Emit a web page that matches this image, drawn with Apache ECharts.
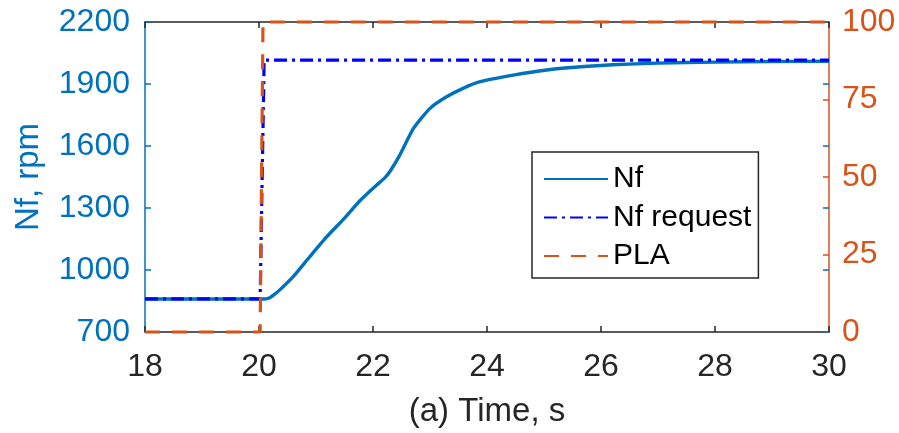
<!DOCTYPE html>
<html>
<head>
<meta charset="utf-8">
<script src="https://cdn.jsdelivr.net/npm/echarts@6/dist/echarts.min.js"></script>
<style>
html,body{margin:0;padding:0;background:#fff;}
#chart{width:899px;height:433px;}
</style>
</head>
<body>
<div id="chart"></div>
<script>
// Data
const nfTime = [18, 20.1, 20.19, 20.28, 20.37, 20.6, 20.89, 21.19, 21.48, 21.77, 22.06, 22.21, 22.3, 22.47, 22.71, 23.0, 23.29, 23.58, 23.88, 24.46, 25.05, 25.6, 26.2, 27, 28, 29, 30];
const nfValue = [860, 860, 866, 884, 905, 968, 1064, 1161, 1245, 1335, 1410, 1447, 1478, 1556, 1685, 1782, 1838, 1879, 1911, 1943, 1968, 1982, 1993, 2001, 2006, 2009, 2010];
const reqTime = [18, 20.02, 20.09, 30];
const reqValue = [860, 860, 2016, 2016];
const plaTime = [18, 20.02, 20.07, 30];
const plaValue = [0, 0, 100, 100];
const xTicks = {min: 18, max: 30, interval: 2};
const leftTicks = {min: 700, max: 2200, interval: 300};
const rightTicks = {min: 0, max: 100, interval: 25};
const legendNames = ['Nf', 'Nf request', 'PLA'];

const BLUE = '#0072BD';
const ORANGE = '#D95319';
const DARK = '#262626';
const FONT = 'Liberation Sans, Arial, sans-serif';

const zip = (a, b) => a.map((v, i) => [v, b[i]]);
const plain = v => String(v);

const chart = echarts.init(document.getElementById('chart'));
chart.setOption({
  animation: false,
  backgroundColor: '#fff',
  textStyle: {fontFamily: FONT},
  grid: {left: 145, right: 70, top: 22, bottom: 101, containLabel: false},
  legend: {
    orient: 'vertical',
    left: 532, top: 152,
    padding: [12, 7, 7, 11],
    itemWidth: 64, itemHeight: 14,
    itemGap: 8.5,
    borderColor: DARK, borderWidth: 1.5,
    backgroundColor: '#fff',
    itemStyle: {opacity: 0},
    textStyle: {fontSize: 30, color: '#000', fontFamily: FONT, lineHeight: 30},
    data: legendNames
  },
  xAxis: [
    {
      type: 'value', position: 'bottom', min: xTicks.min, max: xTicks.max, interval: xTicks.interval,
      axisLine: {show: true, lineStyle: {color: DARK, width: 1.5}},
      axisTick: {show: true, inside: true, length: 6, lineStyle: {color: DARK, width: 1.5}},
      axisLabel: {fontSize: 32, color: DARK, margin: 19, fontFamily: FONT, formatter: plain},
      splitLine: {show: false},
      name: '(a) Time, s', nameLocation: 'middle', nameGap: 63,
      nameTextStyle: {fontSize: 33, color: DARK, fontFamily: FONT}
    },
    {
      type: 'value', position: 'top', min: xTicks.min, max: xTicks.max, interval: xTicks.interval,
      axisLine: {show: true, lineStyle: {color: DARK, width: 1.5}},
      axisTick: {show: true, inside: true, length: 6, lineStyle: {color: DARK, width: 1.5}},
      axisLabel: {show: false},
      splitLine: {show: false}
    }
  ],
  yAxis: [
    {
      type: 'value', position: 'left', min: leftTicks.min, max: leftTicks.max, interval: leftTicks.interval,
      axisLine: {show: true, lineStyle: {color: BLUE, width: 1.5}},
      axisTick: {show: true, inside: true, length: 6, lineStyle: {color: BLUE, width: 1.5}},
      axisLabel: {fontSize: 32, color: BLUE, margin: 15, fontFamily: FONT, formatter: plain},
      splitLine: {show: false},
      name: 'Nf, rpm', nameLocation: 'middle', nameGap: 100, nameRotate: 90,
      nameTextStyle: {fontSize: 33, color: BLUE, fontFamily: FONT}
    },
    {
      type: 'value', position: 'right', min: rightTicks.min, max: rightTicks.max, interval: rightTicks.interval,
      axisLine: {show: true, lineStyle: {color: ORANGE, width: 1.5}},
      axisTick: {show: true, inside: true, length: 6, lineStyle: {color: ORANGE, width: 1.5}},
      axisLabel: {fontSize: 32, color: ORANGE, margin: 13, fontFamily: FONT, formatter: plain},
      splitLine: {show: false}
    },
    {
      type: 'value', position: 'right', min: leftTicks.min, max: leftTicks.max, interval: leftTicks.interval,
      axisLine: {show: false},
      axisTick: {show: true, inside: true, length: 6, lineStyle: {color: BLUE, width: 1.5}},
      axisLabel: {show: false},
      splitLine: {show: false}
    }
  ],
  series: [
    {
      name: legendNames[0], type: 'line', xAxisIndex: 0, yAxisIndex: 0,
      data: zip(nfTime, nfValue), showSymbol: false, symbol: 'none', smooth: 0.2, clip: false,
      lineStyle: {color: BLUE, width: 3.4}, itemStyle: {color: BLUE}, z: 3
    },
    {
      name: legendNames[1], type: 'line', xAxisIndex: 0, yAxisIndex: 0,
      data: zip(reqTime, reqValue), showSymbol: false, symbol: 'none', clip: false,
      lineStyle: {color: '#0000FF', width: 3.2, type: [13, 5, 3, 5]}, itemStyle: {color: '#0000FF'}, z: 4
    },
    {
      name: legendNames[2], type: 'line', xAxisIndex: 0, yAxisIndex: 1,
      data: zip(plaTime, plaValue), showSymbol: false, symbol: 'none', clip: false,
      lineStyle: {color: ORANGE, width: 3.2, type: [15, 12]}, itemStyle: {color: ORANGE}, z: 5
    }
  ]
});
</script>
</body>
</html>
